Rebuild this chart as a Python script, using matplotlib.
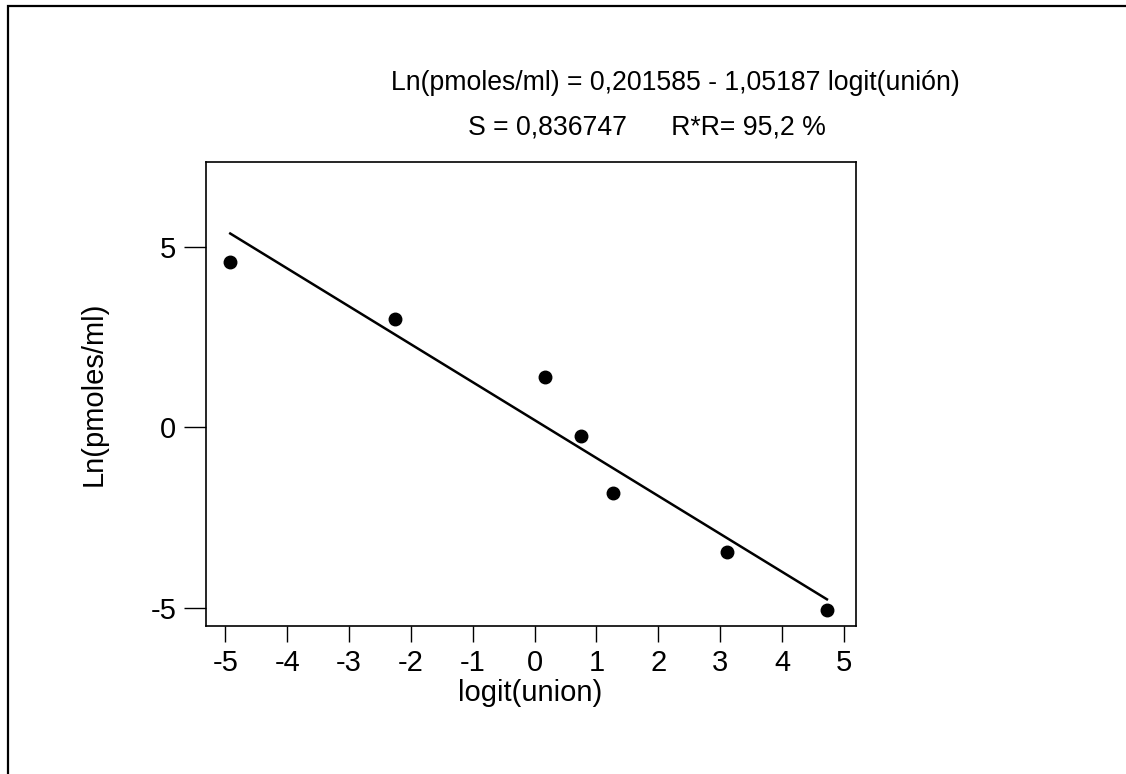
import numpy as np
import matplotlib.pyplot as plt
from matplotlib.patches import Rectangle

plt.rcParams['font.family'] = ['Liberation Sans', 'DejaVu Sans']

# observed points
logit_union = [-4.92, -2.256, 0.17, 0.752, 1.274, 3.108, 4.725]
ln_pmoles = [4.59, 3.005, 1.39, -0.23, -1.83, -3.45, -5.06]

# fitted regression
intercept = 0.201585
slope = -1.05187

xticks = [-5, -4, -3, -2, -1, 0, 1, 2, 3, 4, 5]
yticks = [-5, 0, 5]

W, H = 1126, 774
fig = plt.figure(figsize=(W / 100, H / 100), dpi=100)

# outer frame (right/bottom edges run off the picture)
fig.patches.append(Rectangle((8 / W, -0.1), 1.2, 1 - 6 / H + 0.1,
                             transform=fig.transFigure, fill=False,
                             edgecolor='black', linewidth=1.6, clip_on=False))

ax = fig.add_axes([205.5 / W, 1 - 625.7 / H, 650.2 / W, 463.7 / H])

xs = np.array(sorted(logit_union))
ax.plot(xs, intercept + slope * xs, color='black', linewidth=1.8)
ax.plot(logit_union, ln_pmoles, 'o', color='black', markersize=9)

ax.set_xlim(-5.32, 5.19)
ax.set_ylim(-5.50, 7.36)
ax.set_xticks(xticks)
ax.set_yticks(yticks)
ax.set_xticklabels([str(t) for t in xticks])
ax.set_yticklabels([str(t) for t in yticks])

ax.tick_params(axis='x', direction='out', length=11.5, width=1, pad=5, labelsize=21)
ax.tick_params(axis='y', direction='out', length=16, width=1, pad=5, labelsize=21)
for s in ax.spines.values():
    s.set_linewidth(1.2)

ax.set_xlabel('logit(union)', fontsize=21)
ax.set_ylabel('Ln(pmoles/ml)', fontsize=21)
ax.xaxis.set_label_coords(0.5, -0.115)
ax.yaxis.set_label_coords(-0.15, 0.5)

fig.text(675 / W, 1 - 83 / H, 'Ln(pmoles/ml) = 0,201585 - 1,05187 logit(unión)',
         ha='center', va='center', fontsize=19.2)
fig.text(647 / W, 1 - 127 / H, 'S = 0,836747      R*R= 95,2 %',
         ha='center', va='center', fontsize=19.2)

plt.savefig('out.png', dpi=100)
